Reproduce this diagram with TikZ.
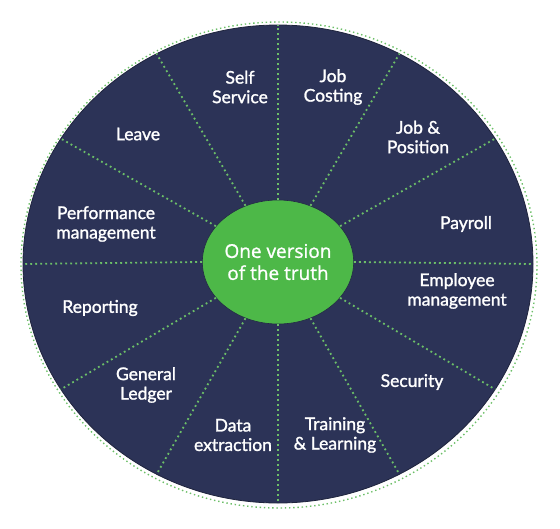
\documentclass[tikz,border=0pt]{standalone}
\usepackage{fontspec}
\setmainfont{Lato}[FakeBold=1.4]
\newfontfamily\hubfont{Open Sans}[FakeBold=1.2]
\usetikzlibrary{shapes.geometric}
\definecolor{wheelblue}{HTML}{2C3357}
\definecolor{hubgreen}{HTML}{4DB848}
\definecolor{dotgreen}{HTML}{6CBF68}

\begin{document}
\begin{tikzpicture}[x=1pt, y=-1pt]
    % Define styles
    \tikzset{
        wheel/.style={ellipse, draw=wheelblue!70!black, fill=wheelblue, line width=0.8pt, inner sep=0pt, minimum width=510pt, minimum height=478pt},
        hub/.style={ellipse, draw=wheelblue!80!black, fill=hubgreen, line width=0.6pt, inner sep=0pt, minimum width=142pt, minimum height=124pt, text=white, align=center, font=\hubfont\fontsize{19}{22}\selectfont},
        divider/.style={draw=dotgreen, line width=1.8pt, dash pattern=on 1.8pt off 3.2pt},
        rim/.style={draw=dotgreen, line width=1.4pt, dash pattern=on 1.4pt off 2.8pt},
        segment/.style={text=white, align=center, font=\fontsize{17.5}{19.5}\selectfont}
    }
    \useasboundingbox (0,0) rectangle (560,528);

    % Outer dotted rim
    \draw[rim] (279,265) ellipse [x radius=258, y radius=243];

    % Wheel and hub
    \node[wheel] (wheel) at (278,264) {};
    \node[hub] (hub) at (278,262) {One version\\of the truth};

    % Dividers
    \draw[divider] (hub.0) -- (wheel.0);
    \draw[divider] (hub.30) -- (wheel.30);
    \draw[divider] (hub.60) -- (wheel.60);
    \draw[divider] (hub.90) -- (wheel.90);
    \draw[divider] (hub.120) -- (wheel.120);
    \draw[divider] (hub.150) -- (wheel.150);
    \draw[divider] (hub.180) -- (wheel.180);
    \draw[divider] (hub.210) -- (wheel.210);
    \draw[divider] (hub.240) -- (wheel.240);
    \draw[divider] (hub.270) -- (wheel.270);
    \draw[divider] (hub.300) -- (wheel.300);
    \draw[divider] (hub.330) -- (wheel.330);

    % Segment labels
    \node[segment] (self) at (240,87) {Self\\Service};
    \node[segment] (jobc) at (333,87) {Job\\Costing};
    \node[segment] (jobp) at (418,137) {Job \&\\Position};
    \node[segment] (pay) at (466,224) {Payroll};
    \node[segment] (emp) at (457,291) {Employee\\management};
    \node[segment] (sec) at (412,382) {Security};
    \node[segment] (train) at (335,435) {Training\\\& Learning};
    \node[segment] (data) at (233,435) {Data\\extraction};
    \node[segment] (gl) at (146,385) {General\\Ledger};
    \node[segment] (rep) at (100,308) {Reporting};
    \node[segment] (perf) at (106,224) {Performance\\management};
    \node[segment] (leave) at (138,134) {Leave};

\end{tikzpicture}
\end{document}
